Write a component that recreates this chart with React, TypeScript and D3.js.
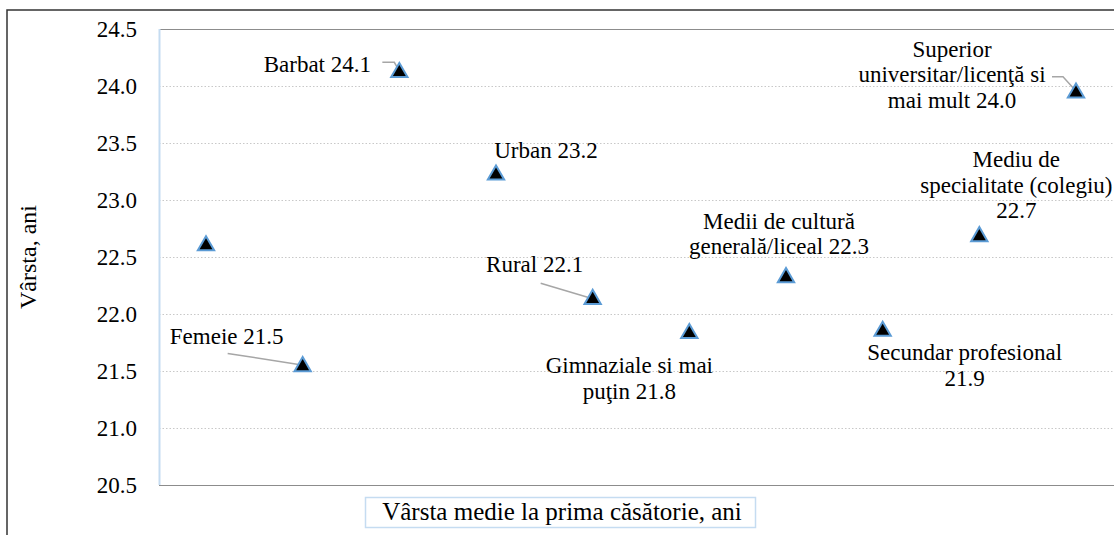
import React from "react";
import * as d3 from "d3";

const categories = [
  "Total",
  "Femeie",
  "Barbat",
  "Urban",
  "Rural",
  "Gimnaziale si mai puţin",
  "Medii de cultură generală/liceal",
  "Secundar profesional",
  "Mediu de specialitate (colegiu)",
  "Superior universitar/licenţă si mai mult",
];
const values = [22.6, 21.54, 24.12, 23.22, 22.13, 21.83, 22.32, 21.85, 22.68, 23.94];
const labelLines: string[][] = [
  [],
  ["Femeie 21.5"],
  ["Barbat 24.1"],
  ["Urban 23.2"],
  ["Rural 22.1"],
  ["Gimnaziale si mai", "puţin 21.8"],
  ["Medii de cultură", "generală/liceal 22.3"],
  ["Secundar profesional", "21.9"],
  ["Mediu de", "specialitate (colegiu)", "22.7"],
  ["Superior", "universitar/licenţă si", "mai mult 24.0"],
];
const yTicks = [20.5, 21.0, 21.5, 22.0, 22.5, 23.0, 23.5, 24.0, 24.5];
const yTitle = "Vârsta, ani";
const xTitle = "Vârsta medie la prima căsătorie, ani";

// label layout (pixel offsets from the point) and leader lines
const labelLayout = [
  null,
  { dx: -76, dy: -22, leader: [[-75, -13], [-4, -2]] },
  { dx: -82, dy: 0, leader: [[-17, -10], [-5, -10], [-1, -3]] },
  { dx: 50, dy: -17, leader: null },
  { dx: -58, dy: -27, leader: [[-52, -16], [-5, -2]] },
  { dx: -60, dy: 40, leader: null },
  { dx: -7, dy: -49, leader: null },
  { dx: 82, dy: 29, leader: null },
  { dx: 37, dy: -69, leader: null },
  { dx: -124, dy: -36, leader: [[-24, -16], [-13, -16], [-3, -5]] },
];

const W = 1114;
const H = 535;
const plot = { left: 159, top: 29, right: 1180, bottom: 485 };
const FONT = "'Liberation Serif', Tinos, 'Times New Roman', Times, 'Noto Serif', 'DejaVu Serif', FreeSerif, serif";
const FS = 23;
const LH = 25.5;

export default function App() {
  const x = d3
    .scalePoint<string>()
    .domain(categories)
    .range([206, 1076]);
  const y = d3.scaleLinear().domain([20.5, 24.5]).range([plot.bottom, plot.top]);

  const tri = d3.symbol().type(d3.symbolTriangle).size(115)();

  return (
    <div style={{ position: "fixed", left: 0, top: 0, fontFamily: FONT }}>
      <svg width={W} height={H} style={{ display: "block", fontFamily: FONT }}>
        <rect x={0} y={0} width={W} height={H} fill="#fff" />
        {/* outer frame */}
        <rect x={7} y={10} width={W + 20} height={H + 20} fill="none" stroke="#333" strokeWidth={1.5} />
        {/* grid */}
        {yTicks.map((t) => {
          const yy = Math.round(y(t)) + 0.5;
          const edge = t === 20.5 || t === 24.5;
          return (
            <line
              key={t}
              x1={plot.left}
              x2={plot.right}
              y1={yy}
              y2={yy}
              stroke={edge ? "#8c8c8c" : "#c8c8c8"}
              strokeWidth={edge ? 1.2 : 1}
              strokeDasharray={edge ? undefined : "1.5,2"}
            />
          );
        })}
        {/* y axis line */}
        <line x1={plot.left + 0.5} x2={plot.left + 0.5} y1={plot.top} y2={plot.bottom} stroke="#c5dcf1" strokeWidth={2} />
        {/* tick labels */}
        {yTicks.map((t) => (
          <text key={t} x={137} y={y(t) + 8} textAnchor="end" fontSize={FS} fill="#000" style={{ fontFamily: FONT }}>
            {t.toFixed(1)}
          </text>
        ))}
        {/* y title */}
        <text
          transform={`translate(36,${(plot.top + plot.bottom) / 2}) rotate(-90)`}
          textAnchor="middle"
          fontSize={24}
          fill="#000"
          style={{ fontFamily: FONT }}
        >
          {yTitle}
        </text>
        {/* leader lines */}
        {values.map((v, i) => {
          const L = labelLayout[i];
          if (!L || !L.leader) return null;
          const px = x(categories[i])!;
          const py = y(v);
          const pts = L.leader.map(([a, b]) => [px + a, py + b] as [number, number]);
          return <path key={"l" + i} d={d3.line()(pts)!} fill="none" stroke="#a6a6a6" strokeWidth={1.5} />;
        })}
        {/* markers */}
        {values.map((v, i) => (
          <path
            key={"m" + i}
            d={tri!}
            transform={`translate(${x(categories[i])},${y(v)})`}
            fill="#000"
            stroke="#5b9bd5"
            strokeWidth={2}
            strokeLinejoin="miter"
          />
        ))}
        {/* labels */}
        {values.map((v, i) => {
          const L = labelLayout[i];
          if (!L) return null;
          const px = x(categories[i])!;
          const py = y(v);
          return (
            <text key={"t" + i} textAnchor="middle" fontSize={FS} fill="#000" style={{ fontFamily: FONT }}>
              {labelLines[i].map((s, k) => (
                <tspan key={k} x={px + L.dx} y={py + L.dy + k * LH}>
                  {s}
                </tspan>
              ))}
            </text>
          );
        })}
        {/* x title box */}
        <rect x={365.5} y={497.5} width={390} height={30} fill="#fff" stroke="#c5dcf1" strokeWidth={1.5} />
        <text x={562} y={520} textAnchor="middle" fontSize={25} fill="#000" style={{ fontFamily: FONT }}>
          {xTitle}
        </text>
      </svg>
    </div>
  );
}
